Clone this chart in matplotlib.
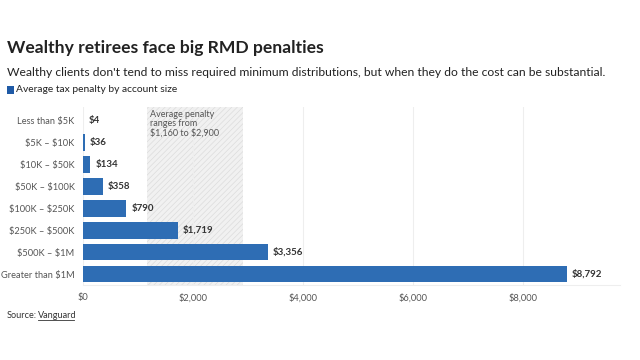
import matplotlib.pyplot as plt
import matplotlib as mpl

plt.rcParams['font.family'] = ['Lato', 'DejaVu Sans']
plt.rcParams['text.parse_math'] = False
mpl.rcParams['hatch.color'] = '#d8d8d8'
mpl.rcParams['hatch.linewidth'] = 0.5

categories = ['Less than $5K', '$5K - $10K', '$10K - $50K', '$50K - $100K',
              '$100K - $250K', '$250K - $500K', '$500K - $1M', 'Greater than $1M']
penalty = [4, 36, 134, 358, 790, 1719, 3356, 8792]
band_lo, band_hi = 1160, 2900
xticks = [0, 2000, 4000, 6000, 8000]

fig = plt.figure(figsize=(6.4, 3.6), dpi=100)
ax = fig.add_axes([83/640, 1-285/360, (620-83)/640, (285-107)/360])

ypos = list(range(len(categories)))
ax.axvspan(band_lo, band_hi, facecolor='#f1f1f1', hatch='//////', edgecolor='#dcdcdc', lw=0, zorder=0)
ax.barh(ypos, penalty, height=0.77, color='#2e6db4', zorder=2)
for y, v in zip(ypos, penalty):
    ax.text(v + 90, y, '${:,}'.format(v), va='center', ha='left', fontsize=7,
            fontweight='bold', color='#333333')
ax.text(band_lo + 60, -0.45, 'Average penalty\nranges from\n$1,160 to $2,900', va='top', ha='left',
        fontsize=6.5, color='#555555', linespacing=1.0, zorder=3)

ax.set_yticks(ypos)
ax.set_yticklabels([c.replace(' - ', ' – ') for c in categories])
ax.set_ylim(len(categories) - 0.5, -0.6)
ax.set_xlim(0, 9760)
ax.set_xticks(xticks)
ax.set_xticklabels(['${:,}'.format(t) for t in xticks])
ax.tick_params(axis='both', length=0, labelsize=6.7, labelcolor='#555555')
ax.tick_params(axis='x', pad=6)
ax.tick_params(axis='y', pad=6)
ax.grid(axis='x', color='#eeeeee', lw=0.8, zorder=1)
ax.set_axisbelow(True)
for s in ['top', 'right', 'left']:
    ax.spines[s].set_visible(False)
ax.spines['bottom'].set_color('#eeeeee')

fig.text(7/640, 1-48/360, 'Wealthy retirees face big RMD penalties', fontsize=12.6,
         fontweight='bold', color='#222222', va='center')
fig.text(7/640, 1-72/360, "Wealthy clients don't tend to miss required minimum distributions, but when they do the cost can be substantial.",
         fontsize=8.7, color='#222222', va='center')
fig.patches.append(mpl.patches.Rectangle((7/640, 1-94/360), 7/640, 8/360, transform=fig.transFigure,
                                         facecolor='#1f5aa6', edgecolor='none'))
fig.text(16/640, 1-90/360, 'Average tax penalty by account size', fontsize=7.4, color='#222222', va='center')
fig.text(7/640, 1-315/360, 'Source:', fontsize=6.6, color='#333333', va='center')
fig.text(38/640, 1-315/360, 'Vanguard', fontsize=6.6, color='#333333', va='center')
fig.add_artist(mpl.lines.Line2D([38/640, 74/640], [1-320/360, 1-320/360], color='#333333', lw=0.6))

fig.savefig('out.png', dpi=100)
